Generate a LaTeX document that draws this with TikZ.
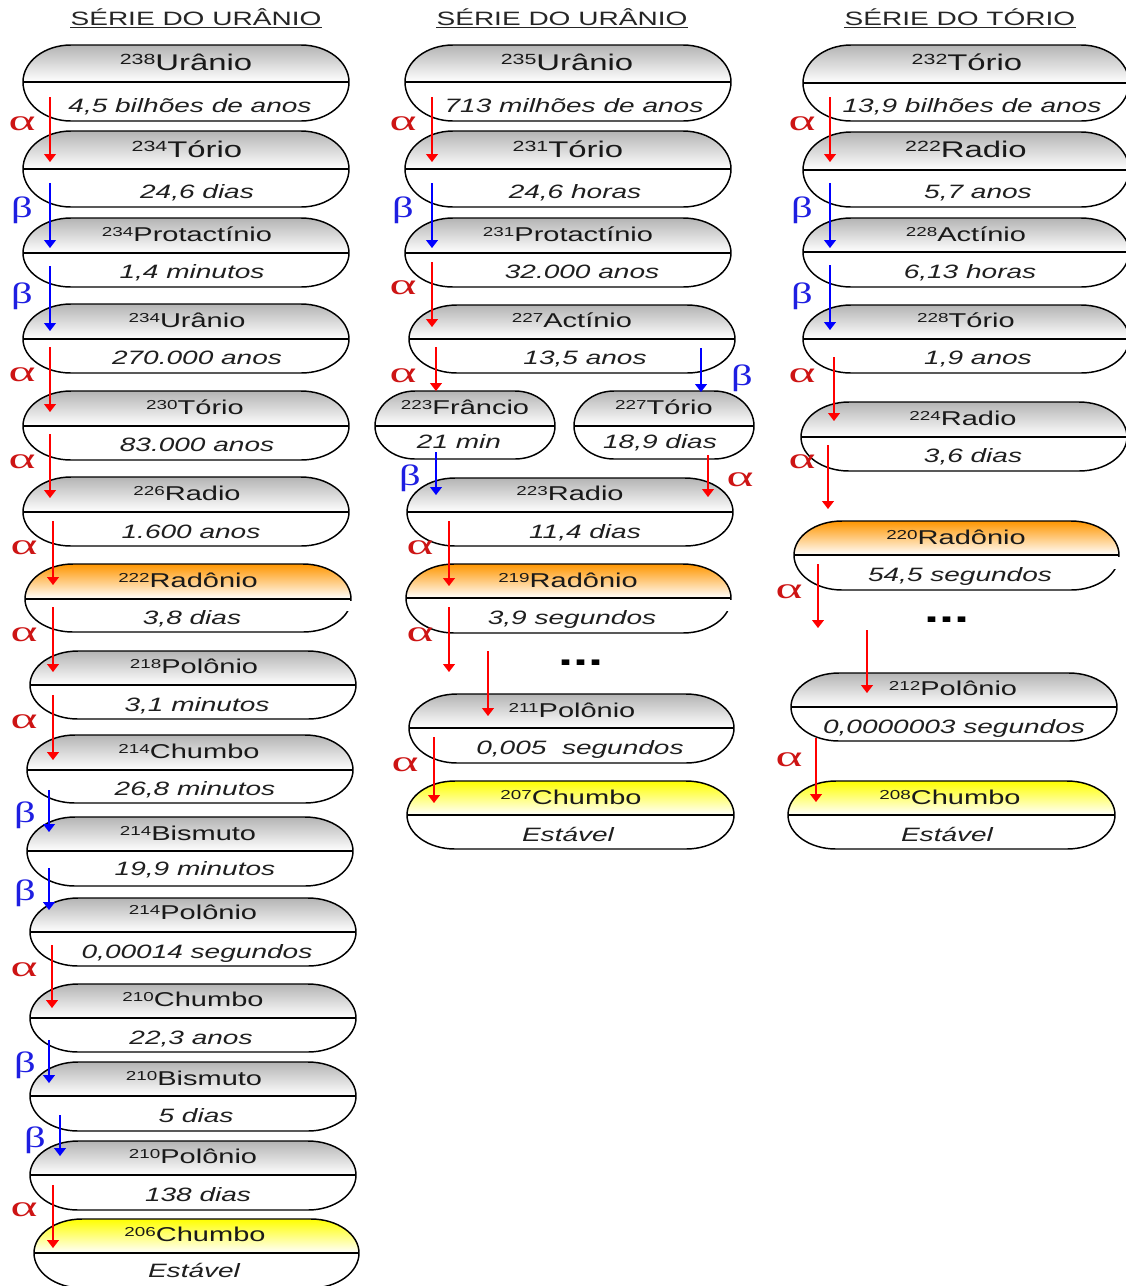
\documentclass[tikz,border=0pt]{standalone}
\usepackage{graphicx}
\usepackage{fontspec}
\setmainfont{Liberation Sans}[FakeStretch=1.45]
\newfontfamily\grka{Liberation Serif}[FakeStretch=1.75]
\newfontfamily\grkb{Liberation Serif}[FakeStretch=1.45]
\usetikzlibrary{arrows.meta}
\definecolor{alphared}{RGB}{205,20,20}
\definecolor{betablue}{RGB}{30,30,225}
\definecolor{capgray}{RGB}{180,180,180}
\definecolor{caporange}{RGB}{255,150,0}
\definecolor{capyellow}{RGB}{255,255,0}
\newcommand\iso[2]{\raisebox{0.25em}{\scalebox{0.65}{#1}}#2}
\newcommand\capsule[7]{%
  \pgfmathsetmacro\cxl{#1+0.4477*#6}%
  \pgfmathsetmacro\exl{#1+#6}%
  \pgfmathsetmacro\cxr{#3-0.4477*#6}%
  \pgfmathsetmacro\exr{#3-#6}%
  \pgfmathsetmacro\cyt{#5-0.5523*(#5-#2)}%
  \pgfmathsetmacro\cyb{#5+0.5523*(#4-#5)}%
  \path[top color=#7, bottom color=white] (#1,#5) .. controls (#1,\cyt) and (\cxl,#2) .. (\exl,#2) -- (\exr,#2) .. controls (\cxr,#2) and (#3,\cyt) .. (#3,#5) -- cycle;
  \draw[capline] (#1,#5) .. controls (#1,\cyt) and (\cxl,#2) .. (\exl,#2) -- (\exr,#2) .. controls (\cxr,#2) and (#3,\cyt) .. (#3,#5) .. controls (#3,\cyb) and (\cxr,#4) .. (\exr,#4) -- (\exl,#4) .. controls (\cxl,#4) and (#1,\cyb) .. (#1,#5) -- cycle;
  \draw[capline] (#1,#5) -- (#3,#5);
}
\tikzset{
  capline/.style={line width=1.1pt, black},
  alph/.style={red, line width=0.8pt, -{Triangle[length=6pt,width=9pt]}},
  bet/.style={blue, line width=0.8pt, -{Triangle[length=6pt,width=9pt]}},
  nm/.style={anchor=base, inner sep=0pt, text=black!90, font=\fontsize{15}{18}\selectfont},
  nmb/.style={nm, font=\fontsize{17}{20}\selectfont},
  hl/.style={anchor=base, inner sep=0pt, text=black!88, font=\fontsize{14.5}{17}\selectfont\itshape},
  ttl/.style={anchor=base, inner sep=0pt, text=black!85, font=\fontsize{14.5}{17}\selectfont},
  la/.style={inner sep=0pt, text=alphared, font=\grka\fontsize{22}{24}\selectfont},
  lb/.style={inner sep=0pt, text=betablue, font=\grkb\fontsize{22}{24}\selectfont},
  dots/.style={inner sep=0pt, font=\fontsize{28}{30}\selectfont\bfseries},
}
\begin{document}
\begin{tikzpicture}[x=0.75pt,y=-0.75pt]
\useasboundingbox (0,0) rectangle (1126,1286);
\clip (0,0) rectangle (1126,1286);
\fill[white] (0,0) rectangle (1126,1286);

% titles
\node[ttl] (t1) at (196,25) {SÉRIE DO URÂNIO};
\node[ttl] (t2) at (562,25) {SÉRIE DO URÂNIO};
\node[ttl] (t3) at (960,25) {SÉRIE DO TÓRIO};
\foreach \t in {t1,t2,t3}{\draw[line width=0.9pt, black!85] ([yshift=-2pt]\t.base west) -- ([yshift=-2pt]\t.base east);}

% column 1 capsules
\capsule{23}{45}{349}{121}{82}{48}{capgray}
\capsule{23}{131}{349}{207}{169}{48}{capgray}
\capsule{23}{218}{349}{287}{253}{48}{capgray}
\capsule{23}{304}{349}{373}{339}{48}{capgray}
\capsule{23}{391}{349}{460}{426}{48}{capgray}
\capsule{23}{477}{349}{546}{512}{48}{capgray}
\capsule{25}{564}{351}{632}{599}{48}{caporange}
\fill[white] (342,600.5) rectangle (354,611);
\capsule{30}{651}{356}{719}{685}{48}{capgray}
\capsule{27}{735}{353}{803}{770}{48}{capgray}
\capsule{27}{817}{353}{886}{851}{48}{capgray}
\capsule{30}{898}{356}{966}{932}{48}{capgray}
\capsule{30}{984}{356}{1052}{1018}{48}{capgray}
\capsule{30}{1062}{356}{1131}{1096}{48}{capgray}
\capsule{30}{1141}{356}{1210}{1175}{48}{capgray}
\capsule{34}{1219}{359}{1288}{1253}{48}{capyellow}

% column 2 capsules
\capsule{405}{45}{731}{121}{82}{48}{capgray}
\capsule{405}{131}{731}{207}{169}{48}{capgray}
\capsule{405}{218}{731}{287}{253}{48}{capgray}
\capsule{409}{305}{735}{373}{339}{48}{capgray}
\capsule{375}{391}{555}{459}{426}{40}{capgray}
\capsule{574}{391}{754}{459}{426}{40}{capgray}
\capsule{407}{478}{733}{546}{512}{48}{capgray}
\capsule{406}{564}{731}{633}{598}{48}{caporange}
\fill[white] (722,599.5) rectangle (734,611);
\capsule{409}{694}{734}{763}{728}{48}{capgray}
\capsule{407}{781}{734}{849}{815}{48}{capyellow}

% column 3 capsules
\capsule{803}{45}{1129}{121}{83}{48}{capgray}
\capsule{803}{132}{1129}{207}{170}{48}{capgray}
\capsule{803}{218}{1129}{287}{252}{48}{capgray}
\capsule{803}{305}{1129}{373}{339}{48}{capgray}
\capsule{801}{402}{1127}{471}{437}{48}{capgray}
\capsule{794}{521}{1119}{590}{555}{48}{caporange}
\fill[white] (1110,556.5) rectangle (1122,569);
\capsule{791}{673}{1117}{741}{707}{48}{capgray}
\capsule{788}{781}{1115}{849}{815}{48}{capyellow}

% column 1 texts
\node[nmb] (n1) at (186,70) {\iso{238}{Urânio}};
\node[hl] (h1) at (190,112) {4,5 bilhões de anos};
\node[nmb] (n2) at (187,157) {\iso{234}{Tório}};
\node[hl] (h2) at (197,198) {24,6 dias};
\node[nm] (n3) at (187,241) {\iso{234}{Protactínio}};
\node[hl] (h3) at (192,278) {1,4 minutos};
\node[nm] (n4) at (187,327) {\iso{234}{Urânio}};
\node[hl] (h4) at (197,364) {270.000 anos};
\node[nm] (n5) at (195,414) {\iso{230}{Tório}};
\node[hl] (h5) at (197,451) {83.000 anos};
\node[nm] (n6) at (187,500) {\iso{226}{Radio}};
\node[hl] (h6) at (191,538) {1.600 anos};
\node[nm] (n7) at (188,587) {\iso{222}{Radônio}};
\node[hl] (h7) at (192,624) {3,8 dias};
\node[nm] (n8) at (194,673) {\iso{218}{Polônio}};
\node[hl] (h8) at (197,711) {3,1 minutos};
\node[nm] (n9) at (189,758) {\iso{214}{Chumbo}};
\node[hl] (h9) at (195,795) {26,8 minutos};
\node[nm] (n10) at (188,840) {\iso{214}{Bismuto}};
\node[hl] (h10) at (195,875) {19,9 minutos};
\node[nm] (n11) at (193,919) {\iso{214}{Polônio}};
\node[hl] (h11) at (197,958) {0,00014 segundos};
\node[nm] (n12) at (193,1006) {\iso{210}{Chumbo}};
\node[hl] (h12) at (191,1044) {22,3 anos};
\node[nm] (n13) at (194,1085) {\iso{210}{Bismuto}};
\node[hl] (h13) at (196,1122) {5 dias};
\node[nm] (n14) at (193,1163) {\iso{210}{Polônio}};
\node[hl] (h14) at (198,1201) {138 dias};
\node[nm] (n15) at (195,1241) {\iso{206}{Chumbo}};
\node[hl] (h15) at (194,1277) {Estável};

% column 2 texts
\node[nmb] (m1) at (567,70) {\iso{235}{Urânio}};
\node[hl] (g1) at (574,112) {713 milhões de anos};
\node[nmb] (m2) at (568,157) {\iso{231}{Tório}};
\node[hl] (g2) at (575,198) {24,6 horas};
\node[nm] (m3) at (568,241) {\iso{231}{Protactínio}};
\node[hl] (g3) at (582,278) {32.000 anos};
\node[nm] (m4) at (572,327) {\iso{227}{Actínio}};
\node[hl] (g4) at (585,364) {13,5 anos};
\node[nm] (m5) at (465,414) {\iso{223}{Frâncio}};
\node[hl] (g5) at (459,448) {21 min};
\node[nm] (m6) at (664,414) {\iso{227}{Tório}};
\node[hl] (g6) at (660,448) {18,9 dias};
\node[nm] (m7) at (570,500) {\iso{223}{Radio}};
\node[hl] (g7) at (585,538) {11,4 dias};
\node[nm] (m8) at (568,587) {\iso{219}{Radônio}};
\node[hl] (g8) at (572,624) {3,9 segundos};
\node[dots] (d2) at (581,663) {...};
\node[nm] (m9) at (572,717) {\iso{211}{Polônio}};
\node[hl] (g9) at (580,754) {0,005\ \ segundos};
\node[nm] (m10) at (571,804) {\iso{207}{Chumbo}};
\node[hl] (g10) at (568,841) {Estável};

% column 3 texts
\node[nmb] (p1) at (967,70) {\iso{232}{Tório}};
\node[hl] (q1) at (972,112) {13,9 bilhões de anos};
\node[nmb] (p2) at (966,157) {\iso{222}{Radio}};
\node[hl] (q2) at (978,198) {5,7 anos};
\node[nm] (p3) at (966,241) {\iso{228}{Actínio}};
\node[hl] (q3) at (970,278) {6,13 horas};
\node[nm] (p4) at (966,327) {\iso{228}{Tório}};
\node[hl] (q4) at (978,364) {1,9 anos};
\node[nm] (p5) at (963,425) {\iso{224}{Radio}};
\node[hl] (q5) at (973,462) {3,6 dias};
\node[nm] (p6) at (956,544) {\iso{220}{Radônio}};
\node[hl] (q6) at (960,581) {54,5 segundos};
\node[dots] (d3) at (947,620) {...};
\node[nm] (p7) at (953,695) {\iso{212}{Polônio}};
\node[hl] (q7) at (954,733) {0,0000003 segundos};
\node[nm] (p8) at (950,804) {\iso{208}{Chumbo}};
\node[hl] (q8) at (947,841) {Estável};

% arrows: name, x, y start, y end, style, label style, label x, label y, symbol
\foreach \nme/\x/\ys/\ye/\st/\lst/\lx/\ly/\sym in {
  A1/50/97/162/alph/la/22/124/α,
  A2/50/183/248/bet/lb/22/210/β,
  A3/50/266/331/bet/lb/22/296/β,
  A4/50/347/412/alph/la/22/375/α,
  A5/50/434/498/alph/la/22/462/α,
  A6/53/521/585/alph/la/24/548/α,
  A7/53/607/672/alph/la/24/635/α,
  A8/53/695/760/alph/la/24/722/α,
  A9/49/790/832/bet/lb/25/815/β,
  A10/49/868/910/bet/lb/25/893/β,
  A11/52/945/1008/alph/la/24/970/α,
  A12/49/1040/1083/bet/lb/25/1065/β,
  A13/60/1115/1156/bet/lb/35/1140/β,
  A14/53/1185/1248/alph/la/24/1210/α,
  B1/432/97/162/alph/la/403/124/α,
  B2/432/183/248/bet/lb/403/210/β,
  B3/432/262/327/alph/la/403/288/α,
  B4/436/347/391/alph/la/403/376/α,
  B5/701/348/392/bet/lb/742/378/β,
  B6/436/452/495/bet/lb/410/478/β,
  B7/708/455/497/alph/la/740/480/α,
  B8/449/521/586/alph/la/420/548/α,
  B9/449/607/672/alph/la/420/635/α,
  B11/434/737/803/alph/la/405/765/α,
  C1/830/97/162/alph/la/802/124/α,
  C2/830/183/248/bet/lb/802/210/β,
  C3/830/265/330/bet/lb/802/296/β,
  C4/834/357/421/alph/la/802/376/α,
  C5/828/445/509/alph/la/802/462/α,
  C6/818/564/628/alph/la/789/592/α,
  C8/816/738/802/alph/la/789/760/α}{
  \coordinate (\nme s) at (\x,\ys);
  \coordinate (\nme e) at (\x,\ye);
  \draw[\st] (\nme s) -- (\nme e);
  \node[\lst] (\nme l) at (\lx,\ly) {\sym};
}
% unlabelled arrows after the ellipses
\coordinate (B10s) at (488,651); \coordinate (B10e) at (488,716);
\draw[alph] (B10s) -- (B10e);
\coordinate (C7s) at (867,630); \coordinate (C7e) at (867,693);
\draw[alph] (C7s) -- (C7e);
\end{tikzpicture}
\end{document}
